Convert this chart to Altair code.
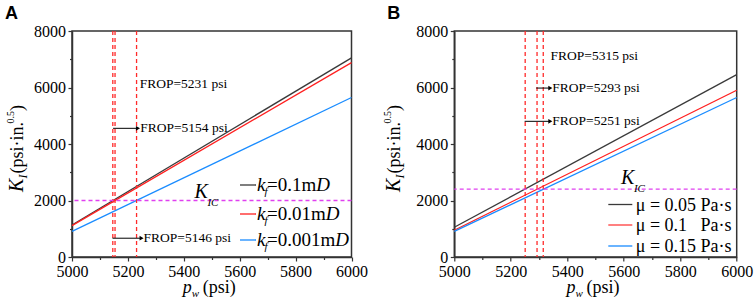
import altair as alt
import pandas as pd

SERIF = "Liberation Serif"
SANS = "Liberation Sans"

# ---------------- shared axis values ----------------
pw_ends = [5000, 6000]
x_ticks = [5000, 5200, 5400, 5600, 5800, 6000]
x_minor = [5100, 5300, 5500, 5700, 5900]
y_ticks = [0, 2000, 4000, 6000, 8000]
y_minor = [1000, 3000, 5000, 7000]

# ---------------- panel A: fracture permeability ----------------
a_series = ["kf=0.1mD", "kf=0.01mD", "kf=0.001mD"]
a_legend_text = ["=0.1m", "=0.01m", "=0.001m"]
a_colors = ["#3a3a3a", "#ff2020", "#1a8cff"]
a_k_01 = [1135, 7050]
a_k_001 = [1110, 6880]
a_k_0001 = [905, 5645]
a_frop = [5146, 5154, 5231]
a_kic = [2000]
a_note_text = ["FROP=5231 psi", "FROP=5154 psi", "FROP=5146 psi"]
a_note_x = [5242, 5244, 5256]
a_note_y = [6130, 4555, 665]
a_arrow_x1 = [5147, 5145]
a_arrow_x2 = [5236, 5249]
a_arrow_y = [4555, 665]
a_kic_label_x = [5438]

# ---------------- panel B: fluid viscosity ----------------
b_series = ["μ = 0.05 Pa·s", "μ = 0.1\u00a0\u00a0\u00a0Pa·s", "μ = 0.15 Pa·s"]
b_colors = ["#3a3a3a", "#ff3b3b", "#1a8cff"]
b_k_005 = [1054, 6454]
b_k_01 = [948, 5903]
b_k_015 = [907, 5646]
b_frop = [5251, 5293, 5315]
b_kic = [2400]
b_note_text = ["FROP=5315 psi", "FROP=5293 psi", "FROP=5251 psi"]
b_note_x = [5341, 5347, 5347]
b_note_y = [7100, 5980, 4803]
b_arrow_x1 = [5290, 5249]
b_arrow_x2 = [5340, 5340]
b_arrow_y = [5980, 4803]
b_kic_label_x = [5590]

ONE = pd.DataFrame({"k": [0]})
TIMES_W = {"=": 0.564, ".": 0.25, "m": 0.778}
for d in "0123456789":
    TIMES_W[d] = 0.5


def text_width(s, size):
    return sum(TIMES_W.get(c, 0.5) for c in s) * size


def vtext(txt, x, y, size, style="normal", align="left", angle=0,
          font=SERIF, weight="normal", color="black", baseline="alphabetic"):
    return alt.Chart(ONE).mark_text(
        text=txt, align=align, baseline=baseline, fontSize=size,
        fontStyle=style, font=font, angle=angle, fontWeight=weight, color=color
    ).encode(x=alt.value(x), y=alt.value(y))


def vrule(x1, x2, y, color, width=1.3):
    return alt.Chart(ONE).mark_rule(color=color, strokeWidth=width).encode(
        x=alt.value(x1), x2=alt.value(x2), y=alt.value(y))


AX = dict(title=None, labelFont=SERIF, labelFontSize=16, labelColor="black",
          labelPadding=2.5, labelFlush=False, labelOverlap=False, labelBound=False,
          grid=False, domainColor="#333333", domainWidth=1.5, tickColor="#333333",
          tickWidth=1.2)


def panel(W, H, series, colors, curves, frop, kic, notes, arrows, kic_x,
          kic_dy, letter, ytitle_x, legend_layers, bound_rule=False):
    xs = alt.Scale(domain=[5000, 6000], nice=False, zero=False)
    ysc = alt.Scale(domain=[0, 8000], nice=False, zero=False)
    rows = []
    for s, vals in zip(series, curves):
        for p, v in zip(pw_ends, vals):
            rows.append({"pw": p, "K": v, "series": s})
    ldf = pd.DataFrame(rows)
    lines = alt.Chart(ldf).mark_line(strokeWidth=1.3).encode(
        x=alt.X("pw:Q", scale=xs,
                axis=alt.Axis(values=x_ticks, orient="bottom", format="d", tickSize=4, **AX)),
        y=alt.Y("K:Q", scale=ysc,
                axis=alt.Axis(values=y_ticks, orient="left", format="d", tickSize=4, **AX)),
        color=alt.Color("series:N", scale=alt.Scale(domain=series, range=colors), legend=None),
        detail="series:N",
    )
    vr = alt.Chart(pd.DataFrame({"x": frop})).mark_rule(
        color="#ff2a2a", strokeDash=[4, 3], strokeWidth=1.3).encode(
        x=alt.X("x:Q", scale=xs,
                axis=alt.Axis(values=x_minor, orient="bottom", labels=False,
                              domain=False, tickSize=2.5, **AX)))
    hr = alt.Chart(pd.DataFrame({"y": kic})).mark_rule(
        color="#e040f0", strokeDash=[4, 3], strokeWidth=1.3).encode(
        y=alt.Y("y:Q", scale=ysc,
                axis=alt.Axis(values=y_minor, orient="left", labels=False,
                              domain=False, tickSize=2.5, **AX)))
    adf = pd.DataFrame({"x1": arrows[0], "x2": arrows[1], "y": arrows[2]})
    ar = alt.Chart(adf).mark_rule(color="black", strokeWidth=1).encode(
        x=alt.X("x1:Q", scale=xs, axis=None), x2="x2:Q",
        y=alt.Y("y:Q", scale=ysc, axis=None))
    ah = alt.Chart(adf).mark_point(shape="triangle-right", filled=True, size=22,
                                   color="black", opacity=1).encode(
        x=alt.X("x2:Q", scale=xs, axis=None), y=alt.Y("y:Q", scale=ysc, axis=None))
    ndf = pd.DataFrame({"x": notes[0], "y": notes[1], "t": notes[2]})
    nt = alt.Chart(ndf).mark_text(align="left", baseline="middle", font=SERIF,
                                  fontSize=13.5, color="black").encode(
        x=alt.X("x:Q", scale=xs, axis=None), y=alt.Y("y:Q", scale=ysc, axis=None),
        text="t:N")
    kdf = pd.DataFrame({"x": kic_x, "y": kic})
    kK = alt.Chart(kdf).mark_text(text="K", align="left", baseline="alphabetic",
                                  font=SERIF, fontSize=20, fontStyle="italic",
                                  dy=kic_dy, color="black").encode(
        x=alt.X("x:Q", scale=xs, axis=None), y=alt.Y("y:Q", scale=ysc, axis=None))
    kIC = alt.Chart(kdf).mark_text(text="IC", align="left", baseline="alphabetic",
                                   font=SERIF, fontSize=11, fontStyle="italic",
                                   dx=13, dy=kic_dy + 8, color="black").encode(
        x=alt.X("x:Q", scale=xs, axis=None), y=alt.Y("y:Q", scale=ysc, axis=None))

    layers = [lines, vr, hr, ar, ah, nt, kK, kIC]
    # x axis title: p_w (psi)
    cx = W / 2
    layers += [
        vtext("p", cx - 29, H + 36, 18, style="italic"),
        vtext("w", cx - 20, H + 40, 11, style="italic"),
        vtext("(psi)", cx - 9, H + 36, 18),
    ]
    # y axis title: K_I (psi·in.^0.5)
    xb = ytitle_x
    layers += [
        vtext("K", xb, 161, 20, style="italic", angle=270),
        vtext("I", xb + 4, 147.5, 12, style="italic", angle=270),
        vtext("(psi·in.", xb, 142.5, 18, angle=270),
        vtext("0.5", xb - 9, 92.5, 10, angle=270),
        vtext(")", xb, 80, 18, angle=270),
    ]
    layers.append(vtext(letter, -67, -26.5, 18, font=SANS, weight="bold", baseline="top"))
    layers += legend_layers
    if bound_rule:
        layers.append(alt.Chart(ONE).mark_rule(color="white", strokeWidth=0.01).encode(
            x=alt.value(-70.5), x2=alt.value(-70.5), y=alt.value(-30), y2=alt.value(-29)))
    return alt.layer(*layers).resolve_axis(x="independent", y="independent").properties(
        width=W, height=H)


# legend A
leg_a = []
for yy, col, txt in zip([154, 183, 209], a_colors, a_legend_text):
    leg_a.append(vrule(168, 184, yy, col))
    leg_a.append(vtext("k", 185, yy + 6, 19, style="italic"))
    leg_a.append(vtext("f", 192.5, yy + 10, 11, style="italic"))
    leg_a.append(vtext(txt, 195, yy + 6, 19))
    leg_a.append(vtext("D", 195 + text_width(txt, 19), yy + 6, 19, style="italic"))

# legend B
leg_b = []
for yy, col, txt in zip([173.5, 194, 215], b_colors, b_series):
    leg_b.append(vrule(154, 178, yy, col))
    leg_b.append(vtext(txt, 181.5, yy + 6, 18))

WA, WB, H = 279.5, 282.4, 226

panel_a = panel(WA, H, a_series, a_colors, [a_k_01, a_k_001, a_k_0001], a_frop, a_kic,
                (a_note_x, a_note_y, a_note_text), (a_arrow_x1, a_arrow_x2, a_arrow_y),
                a_kic_label_x, -3, "A", -49.5, leg_a, bound_rule=True)
panel_b = panel(WB, H, b_series, b_colors, [b_k_005, b_k_01, b_k_015], b_frop, b_kic,
                (b_note_x, b_note_y, b_note_text), (b_arrow_x1, b_arrow_x2, b_arrow_y),
                b_kic_label_x, -5, "B", -54, leg_b)

chart = alt.hconcat(panel_a, panel_b, spacing=102.3, bounds="flush").configure_view(
    stroke="#333333", strokeWidth=1.5
).configure_axis(
    domainColor="#333333", domainWidth=1.5, tickColor="#333333", tickWidth=1.2,
    tickSize=4, labelFont=SERIF, labelFontSize=16, labelColor="black",
    labelPadding=2.5, grid=False, labelFlush=False, labelOverlap=False, labelBound=False
).properties(padding=0, background="white")

chart.save("out.html", embed_options={"renderer": "svg", "actions": False})
